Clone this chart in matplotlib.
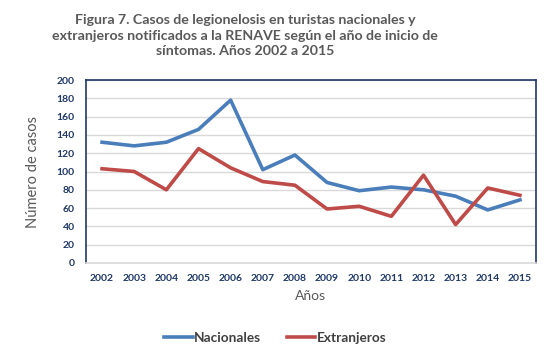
import matplotlib
matplotlib.use("Agg")
import matplotlib.pyplot as plt

years = ["2002", "2003", "2004", "2005", "2006", "2007", "2008", "2009",
         "2010", "2011", "2012", "2013", "2014", "2015"]
nacionales = [132, 128, 132, 146, 178, 102, 118, 88, 79, 83, 80, 73, 58, 69]
extranjeros = [103, 100, 80, 125, 104, 89, 85, 59, 62, 51, 96, 42, 82, 74]
yticks = [0, 20, 40, 60, 80, 100, 120, 140, 160, 180, 200]

plt.rcParams['font.family'] = ['Lato', 'DejaVu Sans']

navy = "#1F3864"
gray = "#595959"
fig = plt.figure(figsize=(5.47, 3.55), dpi=100)
ax = fig.add_axes([86/547, 1-263/355, 450/547, 183/355])

x = list(range(len(years)))
ax.plot(x, nacionales, color="#4A7EBB", lw=2.6, label="Nacionales", solid_joinstyle="round")
ax.plot(x, extranjeros, color="#BE4B48", lw=2.6, label="Extranjeros", solid_joinstyle="round")

ax.set_xlim(-0.5, len(years) - 0.5)
ax.set_ylim(0, 200)
ax.set_yticks(yticks)
ax.set_xticks(x)
ax.set_xticklabels(years)
ax.grid(axis="y", color="#D9D9D9", lw=1)
ax.set_axisbelow(True)
for s in ["left", "top", "right"]:
    ax.spines[s].set_color(navy)
    ax.spines[s].set_linewidth(1.2)
ax.spines["bottom"].set_color("#D9D9D9")
ax.spines["bottom"].set_linewidth(1.2)
ax.tick_params(axis="both", length=0, labelsize=7.5, labelcolor=navy, pad=8)
for lab in ax.get_xticklabels() + ax.get_yticklabels():
    lab.set_fontweight("bold")

ax.set_ylabel("Número de casos", fontsize=10.5, color=gray, labelpad=12)
ax.set_xlabel("Años", fontsize=10, color=gray, labelpad=5)

fig.text(0.448, 0.96, "Figura 7. Casos de legionelosis en turistas nacionales y\n"
         "extranjeros notificados a la RENAVE según el año de inicio de\n"
         "síntomas. Años 2002 a 2015",
         ha="center", va="top", fontsize=10.2, fontweight="bold", color=gray,
         linespacing=1.35)

leg = fig.legend(loc="center", bbox_to_anchor=(0.503, 1-338/355), ncol=2,
                 frameon=False, fontsize=9.8, handlelength=2.1, handletextpad=0.1,
                 columnspacing=1.9)
for t in leg.get_texts():
    t.set_color("#404040")
    t.set_fontweight("bold")

fig.savefig("out.png", dpi=100)
